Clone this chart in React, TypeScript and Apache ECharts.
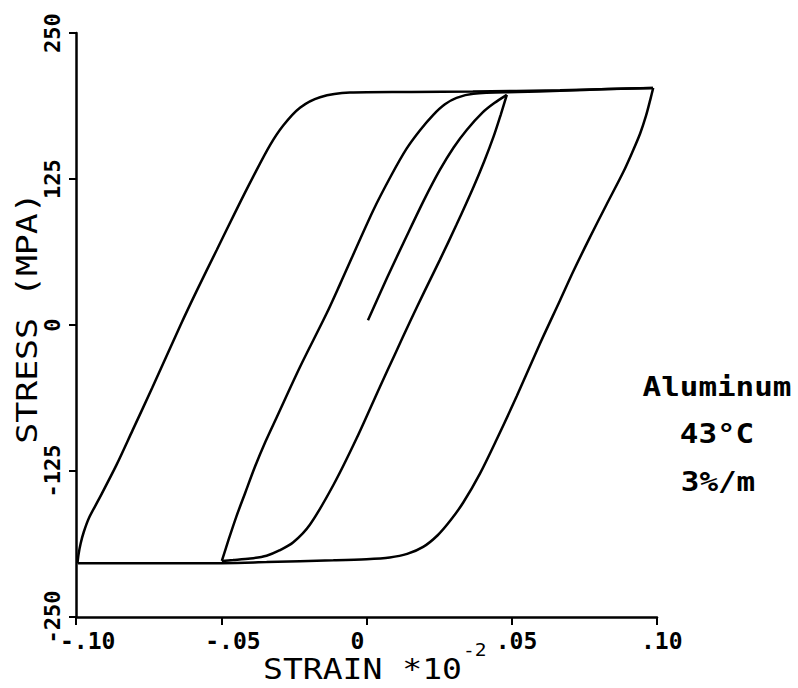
import React, { useEffect, useRef } from "react";
import * as echarts from "echarts";

// Axis ticks and labels
const xTickValues = [-0.1, -0.05, 0, 0.05, 0.1];
const xTickLabels = ["-.10", "-.05", "0", ".05", ".10"];
const yTickValues = [-250, -125, 0, 125, 250];
const yTickLabels = ["-250", "-125", "0", "125", "250"];

// Branches of the hysteresis record: [strain (x10^-2), stress (MPa)]
const initialLoading: number[][] = [
  [0.0005, 4], [0.007, 40], [0.0138, 76], [0.02, 108], [0.0253, 133],
  [0.03, 152], [0.0345, 167], [0.04, 182], [0.044, 190], [0.0483, 197],
];
const unloadToNeg05: number[][] = [
  [0.0483, 197], [0.0462, 180], [0.0437, 161], [0.0405, 140], [0.0368, 118],
  [0.031, 86], [0.0253, 56], [0.02, 29], [0.015, 3], [0.0098, -25],
  [0.0046, -53], [-0.0034, -97], [-0.0114, -137], [-0.0195, -171],
  [-0.0252, -186], [-0.03, -193], [-0.0344, -197.5], [-0.04, -200],
  [-0.0459, -201.3], [-0.0498, -202],
];
const reloadToPos10: number[][] = [
  [-0.0498, -202], [-0.0475, -184], [-0.0448, -164], [-0.0418, -144],
  [-0.0385, -122], [-0.0348, -100], [-0.0309, -79], [-0.0229, -36],
  [-0.0137, 10], [-0.0091, 35], [0.0023, 98], [0.0085, 128], [0.0138, 151],
  [0.0185, 167], [0.023, 180], [0.027, 189], [0.031, 194.5], [0.0368, 198],
  [0.052, 199.5], [0.0666, 200.5], [0.083, 202], [0.0986, 203],
];
const unloadToNeg10: number[][] = [
  [0.0987, 203], [0.0977, 193], [0.0962, 179], [0.0942, 164], [0.0915, 148],
  [0.0884, 131], [0.0826, 103], [0.0769, 75], [0.0712, 46], [0.0666, 21],
  [0.0597, -16], [0.0517, -61], [0.0448, -98], [0.0391, -127], [0.0333, -152],
  [0.029, -167], [0.0245, -180], [0.0195, -190], [0.014, -196], [0.008, -199],
  [0.0, -200.5], [-0.0114, -201.5], [-0.0344, -203], [-0.0573, -204],
  [-0.0786, -204], [-0.0993, -204],
];
const reloadFromNeg10: number[][] = [
  [-0.0995, -204], [-0.0991, -196], [-0.0984, -187], [-0.0973, -177],
  [-0.0955, -165], [-0.0923, -150], [-0.0861, -120], [-0.0805, -90],
  [-0.0738, -54], [-0.064, 0], [-0.0585, 29], [-0.0516, 64], [-0.0447, 99],
  [-0.039, 127], [-0.0332, 154], [-0.0286, 171], [-0.0229, 186],
  [-0.016, 195], [-0.0057, 199], [0.0155, 199.5], [0.0366, 200],
  [0.0666, 201], [0.0986, 203],
];

const branches = [initialLoading, unloadToNeg05, reloadToPos10, unloadToNeg10, reloadFromNeg10];

const FONT = "DejaVu Sans Mono";

function textEl(
  text: string, x: number, y: number, size: number, scaleX: number,
  align: string, weight: string, rotation = 0
) {
  return {
    type: "text",
    x,
    y,
    rotation,
    scaleX,
    silent: true,
    style: {
      text,
      fill: "#000",
      fontFamily: FONT,
      fontWeight: weight,
      fontSize: size,
      align,
      textAlign: align,
      verticalAlign: "middle",
      textVerticalAlign: "middle",
    },
  };
}

export default function App() {
  const ref = useRef<HTMLDivElement>(null);
  useEffect(() => {
    if (!ref.current) return;
    const chart = echarts.init(ref.current, undefined, { renderer: "svg" });
    const option: any = {
      animation: false,
      backgroundColor: "#ffffff",
      grid: { left: 76, right: 141, top: 33, bottom: 71, containLabel: false, outerBoundsMode: "none" },
      xAxis: {
        type: "value",
        min: xTickValues[0],
        max: xTickValues[xTickValues.length - 1],
        interval: 0.05,
        axisLine: { show: true, onZero: false, lineStyle: { color: "#000", width: 2.5 } },
        axisTick: { show: true, inside: false, length: 8, lineStyle: { color: "#000", width: 2 } },
        splitLine: { show: false },
        axisLabel: {
          show: true,
          color: "#000",
          fontFamily: FONT,
          fontWeight: "bold",
          fontSize: 23,
          margin: 12,
          align: "left",
          padding: [0, 0, 0, -16],
          formatter: (v: number) => xTickLabels[Math.round((v - xTickValues[0]) / 0.05)] ?? "",
        },
      },
      yAxis: {
        type: "value",
        min: yTickValues[0],
        max: yTickValues[yTickValues.length - 1],
        interval: 125,
        axisLine: { show: true, onZero: false, lineStyle: { color: "#000", width: 2.5 } },
        axisTick: { show: true, inside: false, length: 7, lineStyle: { color: "#000", width: 2 } },
        splitLine: { show: false },
        axisLabel: {
          show: true,
          color: "#000",
          fontFamily: FONT,
          fontWeight: "bold",
          fontSize: 22,
          rotate: 90,
          margin: 13,
          formatter: (v: number) => yTickLabels[Math.round((v - yTickValues[0]) / 125)] ?? "",
        },
      },
      series: branches.map((d) => ({
        type: "line",
        data: d,
        symbol: "none",
        smooth: 0.3,
        silent: true,
        lineStyle: { color: "#000", width: 2.5 },
      })),
      graphic: [
        textEl("STRESS (MPA)", 27, 318, 29, 1.2, "center", "normal", Math.PI / 2),
        textEl("STRAIN *10", 263, 669, 29, 1.14, "left", "normal"),
        textEl("-2", 463, 650, 17, 1.15, "left", "normal"),
        textEl("Aluminum", 717, 387, 26, 1.19, "center", "bold"),
        textEl("43°C", 717, 434, 26, 1.19, "center", "bold"),
        textEl("3%/m", 718, 482, 26, 1.19, "center", "bold"),
      ],
    };
    chart.setOption(option);
    return () => chart.dispose();
  }, []);
  return (
    <div
      ref={ref}
      style={{ position: "absolute", left: 0, top: 0, width: 798, height: 688, background: "#fff" }}
    />
  );
}
